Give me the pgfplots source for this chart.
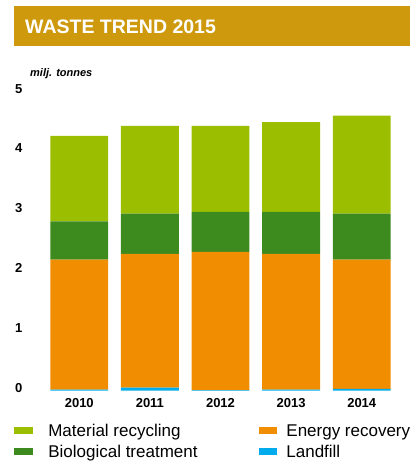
\documentclass[border=0pt]{standalone}
\usepackage{fontspec}
\setmainfont{Liberation Sans}
\usepackage{pgfplots}
\pgfplotsset{compat=1.18}
\definecolor{matrec}{RGB}{155,191,0}
\definecolor{biotr}{RGB}{61,138,31}
\definecolor{energy}{RGB}{240,141,0}
\definecolor{landfill}{RGB}{0,172,236}
\definecolor{titlebar}{RGB}{206,153,12}

\begin{document}
\begin{tikzpicture}
\useasboundingbox (0,0) rectangle (410pt,463pt);
% title band
\fill[titlebar] (14pt,417.3pt) rectangle (410pt,457.3pt);
\node[anchor=base west, text=white, inner sep=0pt,
  font=\bfseries\fontsize{19.5}{20}\selectfont] at (25pt,429pt) {WASTE TREND 2015};
\node[anchor=base west, inner sep=0pt,
  font=\bfseries\itshape\fontsize{11}{12}\selectfont] at (30pt,386pt) {milj. tonnes};

\begin{axis}[
  at={(50.3pt,72.3pt)}, anchor=south west,
  scale only axis, width=340.4pt, height=299pt,
  ybar stacked, bar width=0.82,
  xmin=-0.41, xmax=4.41, ymin=0, ymax=5,
  xtick={0,1,2,3,4}, xticklabels={2010,2011,2012,2013,2014},
  ytick={0,1,2,3,4,5},
  axis line style={draw=none}, major tick style={draw=none},
  /pgf/number format/assume math mode=true,
  ticklabel style={font=\bfseries\fontsize{13}{13}\selectfont},
  yticklabel style={anchor=center, xshift=-31.5pt, yshift=3pt},
  xticklabel style={anchor=center, yshift=-12pt},
  legend image code/.code={\fill[#1, draw=none] (0pt,2.5pt) rectangle (18.5pt,9.5pt);},
  legend columns=2,
  legend style={at={(-0.1066,-0.1127)}, anchor=north west,
    draw=none, fill=none, inner sep=0pt, outer sep=0pt,
    font=\fontsize{17}{18}\selectfont,
    nodes={inner sep=0pt, anchor=base west},
    row sep=7pt,
    /tikz/column 1/.style={column sep=15.8pt},
    /tikz/column 2/.style={column sep=61pt},
    /tikz/column 3/.style={column sep=9.3pt}},
]
\addplot[fill=landfill, draw=none, forget plot] coordinates {(0,0.02) (1,0.05) (2,0.01) (3,0.02) (4,0.03)};
\addplot[fill=energy, draw=none, forget plot] coordinates {(0,2.17) (1,2.24) (2,2.31) (3,2.27) (4,2.16)};
\addplot[fill=biotr, draw=none, forget plot] coordinates {(0,0.64) (1,0.67) (2,0.67) (3,0.70) (4,0.77)};
\addplot[fill=matrec, draw=none, forget plot] coordinates {(0,1.43) (1,1.47) (2,1.44) (3,1.50) (4,1.64)};
\addlegendimage{fill=matrec}\addlegendentry{Material recycling}
\addlegendimage{fill=energy}\addlegendentry{Energy recovery}
\addlegendimage{fill=biotr}\addlegendentry{Biological treatment}
\addlegendimage{fill=landfill}\addlegendentry{Landfill}
\end{axis}
\end{tikzpicture}
\end{document}
